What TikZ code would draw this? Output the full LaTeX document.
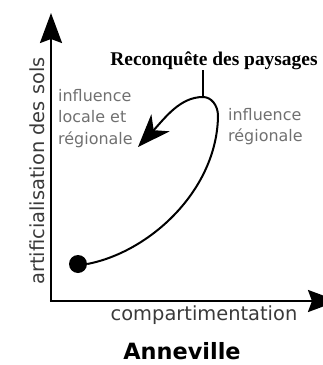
\documentclass[tikz,border=0pt]{standalone}
\usepackage{fontspec}
\setmainfont{DejaVu Sans}
\newfontfamily\titlefont{Liberation Serif}
\usetikzlibrary{arrows.meta}
\definecolor{axistext}{HTML}{3A3A3A}
\definecolor{labeltext}{HTML}{707070}
\tikzset{
  axisline/.style={line width=2.4bp, -{Stealth[length=30bp,width=22bp,inset=4bp]}},
  pathline/.style={line width=2bp},
  axislabel/.style={text=axistext, inner sep=0pt, font=\fontsize{19.5}{22}\selectfont},
  infl/.style={text=labeltext, inner sep=0pt, align=left, font=\fontsize{16}{21.5}\selectfont},
}
\begin{document}
\begin{tikzpicture}[x=1bp,y=-1bp]
\useasboundingbox (0,0) rectangle (323,365);
\clip (0,0) rectangle (323,365);
% axes
\coordinate (origin) at (51,301);
\coordinate (ytip) at (51,13);
\coordinate (xtip) at (338,301);
\draw[axisline] (origin) -- (ytip);
\draw[axisline] ([xshift=-1.2bp]origin) -- (xtip);
% labels
\node[axislabel, rotate=90] (ylab) at (37,171) {artificialisation des sols};
\node[axislabel] (xlab) at (204,315) {compartimentation};
\node[inner sep=0pt, font=\fontsize{22.5}{24}\selectfont\bfseries] (town) at (182,351) {Anneville};
\node[inner sep=0pt, font=\titlefont\fontsize{19.5}{22}\selectfont\bfseries] (title) at (214,61) {Reconquête des paysages};
\node[infl, anchor=north west] (left) at (58,89) {influence\\locale et\\régionale};
\node[infl, anchor=north west] (right) at (228,108) {influence\\régionale};
% trajectory
\node[circle, fill=black, minimum size=18bp, inner sep=0pt] (dot) at (78,264) {};
\coordinate (top) at (203,97);
\coordinate (ticktop) at (203,70);
\coordinate (side) at (218,116);
\coordinate (tip) at (138,147);
\draw[pathline] (ticktop) -- (top);
\draw[pathline] (dot.east) .. controls (150,252) and (217,190) .. (side)
  .. controls (218,105) and (211,97) .. (top);
\draw[pathline, -{Stealth[length=33bp,width=25bp,inset=10bp]}] (top) .. controls (180,97) and (165,118) .. (tip);
\end{tikzpicture}
\end{document}
